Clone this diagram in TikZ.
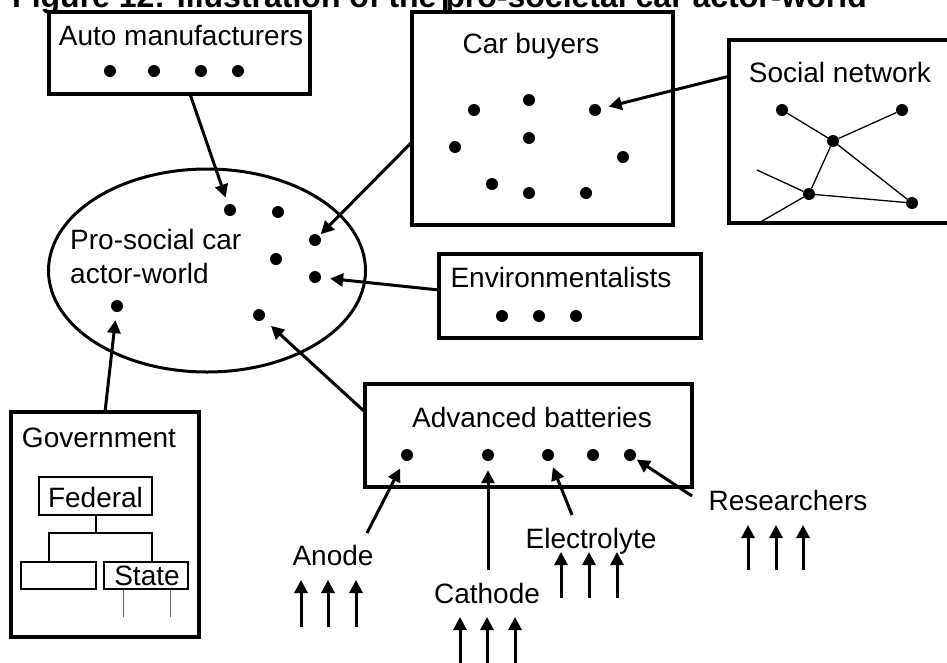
\documentclass[tikz,border=0pt]{standalone}
\usepackage{fontspec}
\setmainfont{Liberation Sans}
\usetikzlibrary{arrows.meta,shapes.geometric}
\begin{document}
\begin{tikzpicture}[x=1pt,y=-1pt,
  txt/.style={font=\fontsize{28}{34}\selectfont, inner sep=0, anchor=base},
  frame/.style={draw, line width=3.2pt, inner sep=0},
  subframe/.style={draw, line width=1.4pt, inner sep=0},
  dot/.style={circle, fill, inner sep=0, minimum size=12pt},
  arr/.style={line width=3pt, -{Triangle[length=13pt,width=13pt]}, shorten >=5pt},
  link/.style={line width=1.3pt},
  branch/.style={line width=1.3pt}
]
\useasboundingbox (0,0) rectangle (947,662);
\clip (0,0) rectangle (947,662);
\fill[white] (0,0) rectangle (947,662);

% heading
\node[anchor=base west, inner sep=0, font=\fontsize{32}{38}\selectfont\bfseries] (title) at (12,7)
  {Figure 12: Illustration of the pro-societal car actor-world};

% ---------- Auto manufacturers ----------
\node[frame, minimum width=261pt, minimum height=82pt] (auto) at (179.5,53) {};
\node[txt] (autoT) at (181,45) {Auto manufacturers};
\node[dot] (a1) at (110,71) {};
\node[dot] (a2) at (154,71) {};
\node[dot] (a3) at (201,71) {};
\node[dot] (a4) at (238,71) {};

% ---------- Car buyers ----------
\node[frame, minimum width=261pt, minimum height=213pt] (cars) at (542.5,118.5) {};
\coordinate (topmark) at (445,0);
\draw[line width=3.2pt] (topmark |- cars.north) -- (topmark);
\node[txt] (carsT) at (531,53) {Car buyers};
\node[dot] (c1) at (474,110) {};
\node[dot] (c2) at (529,100) {};
\node[dot] (c3) at (595,110) {};
\node[dot] (c4) at (455,147) {};
\node[dot] (c5) at (529,138) {};
\node[dot] (c6) at (623,157) {};
\node[dot] (c7) at (492,184) {};
\node[dot] (c8) at (529,193) {};
\node[dot] (c9) at (586,193) {};

% ---------- Social network ----------
\node[frame, minimum width=231pt, minimum height=183pt] (social) at (844.5,131.5) {};
\node[txt] (socialT) at (840,82) {Social network};
\node[dot] (s1) at (782,110) {};
\node[dot] (s2) at (902,110) {};
\node[dot] (s3) at (833,141) {};
\node[dot] (s4) at (809,194) {};
\node[dot] (s5) at (912,203) {};
\coordinate (sA) at (757,170);
\coordinate (sB) at (757,224);
\draw[link] (s1) -- (s3) -- (s2);
\draw[link] (s3) -- (s4) -- (s5) -- (s3);
\draw[link] (sA) -- (s4) -- (sB);

% ---------- Pro-social car actor-world ----------
\node[ellipse, draw, line width=3pt, inner sep=0, minimum width=317pt, minimum height=203pt] (world) at (207,270.5) {};
\node[txt, anchor=base west] (worldT1) at (70,249) {Pro-social car};
\node[txt, anchor=base west] (worldT2) at (70,283) {actor-world};
\node[dot] (w1) at (230,210) {};
\node[dot] (w2) at (278,212) {};
\node[dot] (w3) at (315,240) {};
\node[dot] (w4) at (276,259) {};
\node[dot] (w5) at (315,277) {};
\node[dot] (w6) at (259,315) {};
\node[dot] (w7) at (117,306) {};

% ---------- Environmentalists ----------
\node[frame, minimum width=262pt, minimum height=84pt] (env) at (570,296) {};
\node[txt] (envT) at (561,287) {Environmentalists};
\node[dot] (e1) at (502,316) {};
\node[dot] (e2) at (539,316) {};
\node[dot] (e3) at (576,316) {};

% ---------- Advanced batteries ----------
\node[frame, minimum width=327pt, minimum height=103pt] (adv) at (528.5,435.5) {};
\node[txt] (advT) at (532,427) {Advanced batteries};
\node[dot] (b1) at (407,455) {};
\node[dot] (b2) at (488,455) {};
\node[dot] (b3) at (548,455) {};
\node[dot] (b4) at (593,455) {};
\node[dot] (b5) at (630,455) {};

% ---------- Government ----------
\node[frame, minimum width=188pt, minimum height=225pt] (gov) at (105,524.5) {};
\node[txt] (govT) at (99,447) {Government};
\node[subframe, minimum width=113pt, minimum height=38pt] (federal) at (95.5,496) {};
\node[txt] (federalT) at (95.5,507) {Federal};
\node[subframe, minimum width=75pt, minimum height=27pt] (blank) at (58.5,575.5) {};
\node[subframe, minimum width=84pt, minimum height=27pt] (state) at (146,575.5) {};
\node[txt] (stateT) at (147,585) {State};
\coordinate (forkM) at (96,533);
\coordinate (forkL) at (49,533);
\coordinate (forkR) at (152,533);
\draw[branch] (federal.south -| forkM) -- (forkM);
\draw[branch] (forkL |- blank.north) -- (forkL) -- (forkR) -- (forkR |- state.north);
\coordinate (legA) at (123,617);
\coordinate (legB) at (170,617);
\draw[line width=1pt, black!60] (legA |- state.south) -- (legA);
\draw[line width=1pt, black!60] (legB |- state.south) -- (legB);

% ---------- links into the actor-world ----------
\coordinate (autoOut) at (190,94);
\coordinate (carsOut) at (412,142);
\coordinate (envOut) at (439,290);
\coordinate (advOut) at (365,412);
\coordinate (govOut) at (105,412);
\coordinate (socOut) at (730,76);
\draw[arr, shorten >=7pt] (autoOut) -- (w1);
\draw[arr, shorten >=2pt] (carsOut) -- (w3);
\draw[arr, shorten >=9pt] (envOut) -- (w5);
\draw[arr, shorten >=10pt] (advOut) -- (w6);
\draw[arr, shorten >=8pt] (govOut) -- (w7);
\draw[arr, shorten >=8pt] (socOut) -- (c3);

% ---------- battery components ----------
\node[txt] (anode) at (333,565) {Anode};
\node[txt] (cathode) at (487,603) {Cathode};
\node[txt] (electrolyte) at (591,548) {Electrolyte};
\node[txt] (research) at (788,510) {Researchers};
\coordinate (anodeOut) at (367,533);
\coordinate (cathodeOut) at (488,570);
\coordinate (electOut) at (572,515);
\coordinate (researchOut) at (692,496);
\draw[arr, shorten >=9pt] (anodeOut) -- (b1);
\draw[arr, shorten >=9pt] (cathodeOut) -- (b2);
\draw[arr, shorten >=7pt] (electOut) -- (b3);
\draw[arr, shorten >=2pt] (researchOut) -- (b5);

% upward arrows feeding each component
\foreach \x [count=\i] in {301,328,356}{
  \coordinate (an\i a) at (\x,627); \coordinate (an\i b) at (\x,580);
  \draw[arr, shorten >=0pt] (an\i a) -- (an\i b);}
\foreach \x [count=\i] in {460,487,515}{
  \coordinate (ca\i a) at (\x,668); \coordinate (ca\i b) at (\x,617);
  \draw[arr, shorten >=0pt] (ca\i a) -- (ca\i b);}
\foreach \x [count=\i] in {561,589,617}{
  \coordinate (el\i a) at (\x,598); \coordinate (el\i b) at (\x,552);
  \draw[arr, shorten >=0pt] (el\i a) -- (el\i b);}
\foreach \x [count=\i] in {748,776,803}{
  \coordinate (re\i a) at (\x,570); \coordinate (re\i b) at (\x,525);
  \draw[arr, shorten >=0pt] (re\i a) -- (re\i b);}
\end{tikzpicture}
\end{document}
